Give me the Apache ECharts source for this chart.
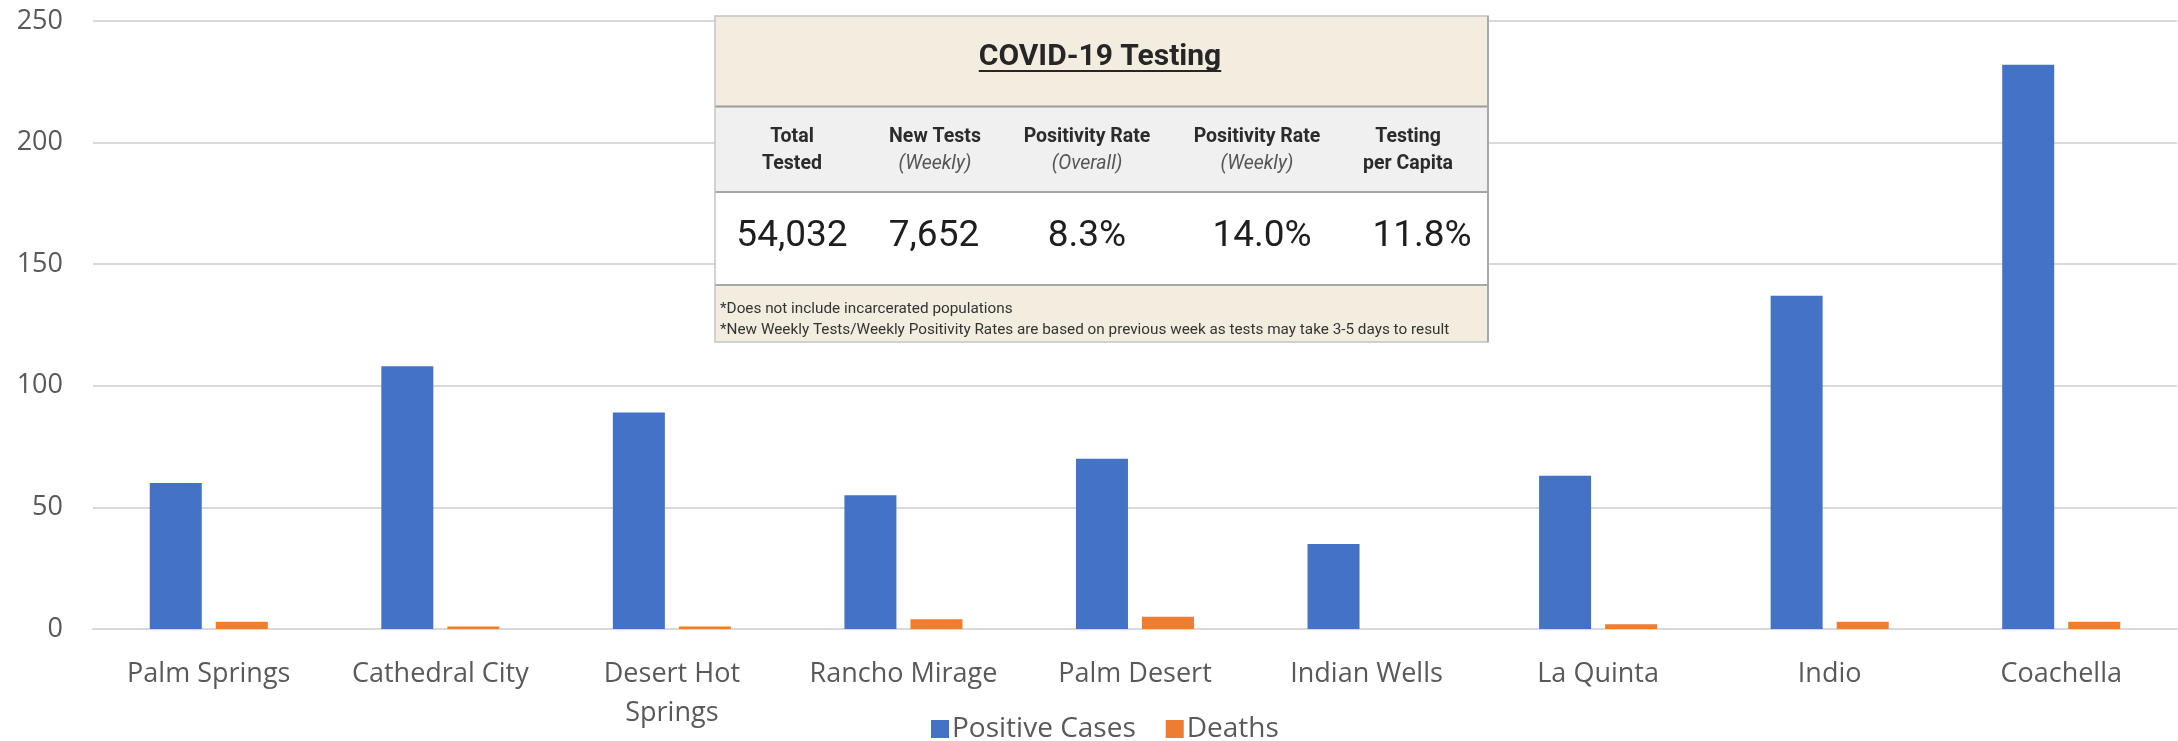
<!DOCTYPE html>
<html>
<head>
<meta charset="utf-8">
<script src="https://cdn.jsdelivr.net/npm/echarts@6/dist/echarts.min.js"></script>
<style>
  html, body { margin: 0; padding: 0; background: #fff; }
  #chart { width: 2178px; height: 741px; }
</style>
</head>
<body>
<div id="chart"></div>
<script>
"use strict";
/* cities of the Coachella Valley: cases and deaths, plus the testing box */
const cities = ["Palm Springs", "Cathedral City", "Desert Hot\nSprings", "Rancho Mirage",
  "Palm Desert", "Indian Wells", "La Quinta", "Indio", "Coachella"];
const positiveCases = [60, 108, 89, 55, 70, 35, 63, 137, 232];
const deaths = [3, 1, 1, 4, 5, 0, 2, 3, 3];
const yMax = 250, yStep = 50;

const testTitle = "COVID-19 Testing";
const testHeads = [["Total", "Tested"], ["New Tests", "(Weekly)"], ["Positivity Rate", "(Overall)"],
  ["Positivity Rate", "(Weekly)"], ["Testing", "per Capita"]];
const testValues = ["54,032", "7,652", "8.3%", "14.0%", "11.8%"];
const testNotes = ["*Does not include incarcerated populations",
  "*New Weekly Tests/Weekly Positivity Rates are based on previous week as tests may take 3-5 days to result"];

const FONT = "'Open Sans', 'Noto Sans', sans-serif";
const GREY = "#595959";

/* ---------- inset box (pasted screenshot of the testing table) ---------- */
const box = {x: 715, y: 16, w: 773, h: 326};
const headX = [792, 935, 1087, 1257, 1408];
const valX = [792, 934, 1087, 1262, 1422];

function textW(str, font) {
  const c = document.createElement("canvas").getContext("2d");
  c.font = font;
  return c.measureText(str).width;
}
const txt = (x, y, text, font, fill, align) => ({
  type: "text", z: 110, x, y,
  style: {text, font, fill, textAlign: align || "center", align: align || "center",
    textVerticalAlign: "middle", verticalAlign: "middle"}
});
const rect = (x, y, w, h, fill, z) => ({type: "rect", z: z || 101, shape: {x, y, width: w, height: h},
  style: {fill}});
const hline = (x1, x2, y, stroke, lw) => ({type: "line", z: 105,
  shape: {x1, y1: y, x2, y2: y}, style: {stroke, lineWidth: lw || 1}});

function insetGraphics() {
  const g = [];
  const {x, y, w, h} = box;
  g.push(rect(x, y, w, h, "#f3ede0", 100));
  g.push(rect(x, 107, w, 85, "#f0f0f0"));
  g.push(rect(x, 192, w, 93, "#ffffff"));
  g.push(hline(x, x + w, 106.5, "#9c9c9c", 2));
  g.push(hline(x, x + w, 192, "#a6a6a6", 2));
  g.push(hline(x, x + w, 285, "#a6a6a6", 2));
  g.push({type: "rect", z: 106, shape: {x, y, width: w, height: h},
    style: {fill: "none", stroke: "#c4c4c4", lineWidth: 1.5}});
  g.push({type: "line", z: 106, shape: {x1: x + w, y1: y, x2: x + w, y2: y + h},
    style: {stroke: "#a8a8a8", lineWidth: 2}});

  const tf = "bold 30px Roboto";
  const tw = textW(testTitle, tf);
  g.push(txt(1100, 57, testTitle, tf, "#262626"));
  g.push(hline(1100 - tw / 2, 1100 + tw / 2, 71, "#262626", 2));

  testHeads.forEach((hd, i) => {
    g.push(txt(headX[i], 137, hd[0], "bold 19.5px Roboto", "#2b2b2b"));
    const sub = hd[1].startsWith("(");
    g.push(txt(headX[i], 164, hd[1], sub ? "italic 19.5px Roboto" : "bold 19.5px Roboto",
      sub ? "#555" : "#2b2b2b"));
  });
  testValues.forEach((v, i) => g.push(txt(valX[i], 237, v, "37px Roboto", "#1e1e1e")));
  testNotes.forEach((n, i) => g.push(txt(720, 309 + i * 21, n, "15.3px Roboto", "#333", "left")));
  return g;
}

/* ---------- chart ---------- */
const chart = echarts.init(document.getElementById("chart"), null, {renderer: "canvas"});
chart.setOption({
  animation: false,
  backgroundColor: "#fff",
  grid: {left: 93, right: 1, top: 21, bottom: 112, containLabel: false},
  legend: {
    data: ["Positive Cases", "Deaths"], left: 926, top: 710,
    icon: "rect", itemWidth: 18, itemHeight: 18, itemGap: 30,
    textStyle: {fontFamily: FONT, fontSize: 28, color: GREY, padding: [0, 0, 0, -2]}
  },
  xAxis: {
    type: "category", data: cities,
    axisLine: {lineStyle: {color: "#d9d9d9", width: 2}},
    axisTick: {show: false},
    axisLabel: {fontFamily: FONT, fontSize: 27, color: GREY, margin: 26, lineHeight: 39, interval: 0}
  },
  yAxis: {
    type: "value", min: 0, max: yMax, interval: yStep,
    axisLine: {show: false}, axisTick: {show: false},
    axisLabel: {fontFamily: FONT, fontSize: 27, color: GREY, margin: 30},
    splitLine: {lineStyle: {color: "#d9d9d9", width: 2}}
  },
  series: [
    {name: "Positive Cases", type: "bar", data: positiveCases, barWidth: 52, barGap: "27%",
      itemStyle: {color: "#4472c4"}},
    {name: "Deaths", type: "bar", data: deaths, barWidth: 52,
      itemStyle: {color: "#ed7d31"}}
  ],
  graphic: insetGraphics()
});
</script>
</body>
</html>
